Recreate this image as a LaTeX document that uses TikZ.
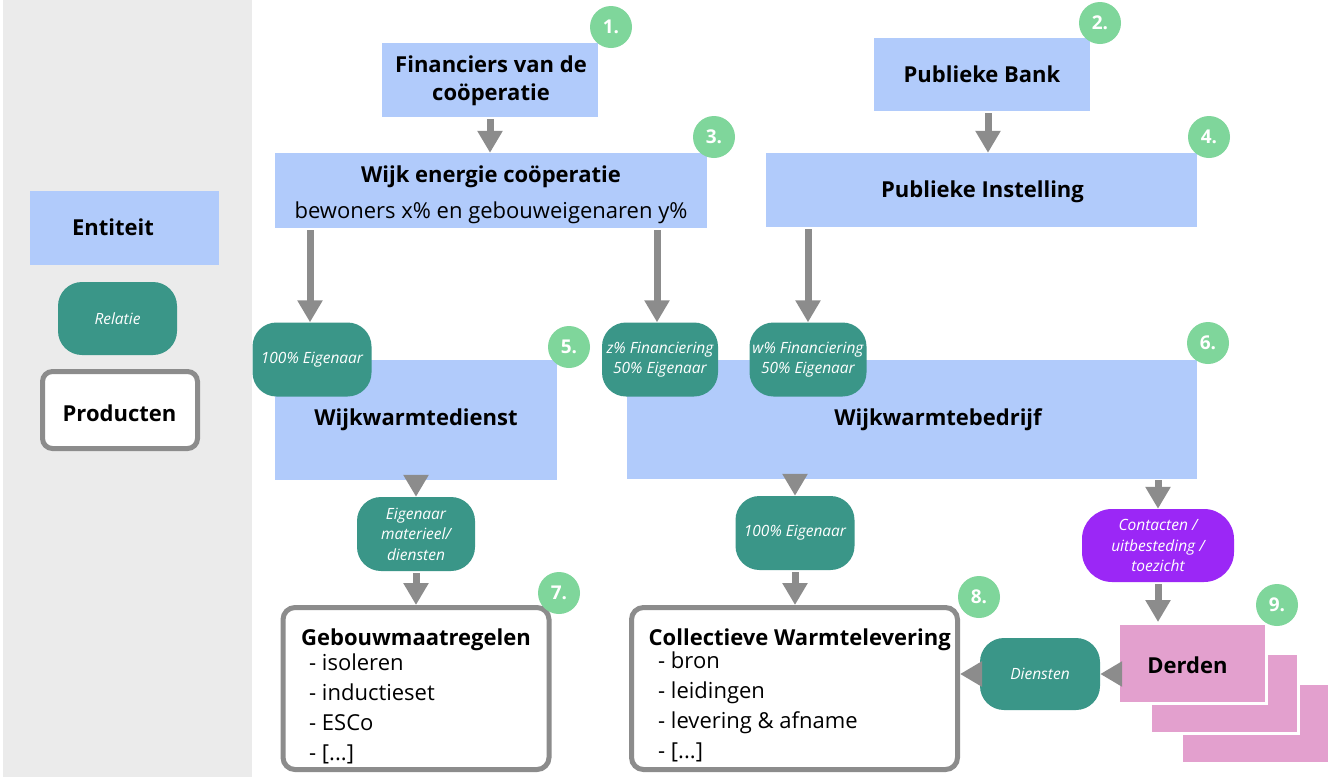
\documentclass[tikz,border=0pt]{standalone}
\usepackage{fontspec}
\setmainfont{Open Sans}
\usetikzlibrary{arrows.meta}
\definecolor{eblue}{HTML}{B1CBFB}
\definecolor{rteal}{HTML}{3A9688}
\definecolor{cgreen}{HTML}{7FD69B}
\definecolor{agrey}{HTML}{8C8C8C}
\definecolor{pgrey}{HTML}{EBEBEB}
\definecolor{rpurple}{HTML}{9B27F6}
\definecolor{dpink}{HTML}{E3A0CE}
\tikzset{
  ebox/.style={fill=eblue, draw=none, inner sep=0pt},
  relbox/.style={fill=rteal, draw=none, rounded corners=24pt, inner sep=0pt, text=white, align=center, font=\fontsize{15.5}{20.5}\selectfont\itshape},
  prodbox/.style={draw=agrey, line width=5pt, fill=white, rounded corners=12pt, inner sep=0pt},
  dbox/.style={fill=dpink, draw=white, line width=3pt, inner sep=0pt, minimum width=148pt, minimum height=80pt},
  numc/.style={circle, fill=cgreen, draw=none, minimum size=42pt, inner sep=0pt, text=white, font=\fontsize{19}{22}\selectfont\bfseries},
  ttl/.style={anchor=base, inner sep=0pt, font=\fontsize{22}{26}\selectfont\bfseries},
  sub/.style={anchor=base, inner sep=0pt, font=\fontsize{22}{26}\selectfont},
  item/.style={anchor=base west, inner sep=0pt, font=\fontsize{22}{26}\selectfont},
  arr/.style={draw=agrey, line width=7pt, -{Triangle[width=24pt,length=22pt]}},
}
\begin{document}
\begin{tikzpicture}[x=1pt,y=-1pt]
\useasboundingbox (0,0) rectangle (1334,777);
\fill[white] (0,0) rectangle (1334,777);
\fill[pgrey] (3,0) rectangle (252,777);

% legend
\node[ebox, minimum width=189pt, minimum height=74pt] (ent) at (124.5,228) {};
\node[ttl] (entt) at (113,235) {Entiteit};
\node[relbox, minimum width=119pt, minimum height=73pt] (rel) at (117.5,318.5) {Relatie};
\node[prodbox, minimum width=155pt, minimum height=77pt, rounded corners=10pt] (prod) at (120,410) {};
\node[ttl] (prodt) at (119.5,421) {Producten};

% entities
\node[ebox, minimum width=216pt, minimum height=74pt] (fin) at (490,80) {};
\node[ttl] (fint1) at (491,72) {Financiers van de};
\node[ttl] (fint2) at (491,100) {coöperatie};
\node[ebox, minimum width=216pt, minimum height=73pt] (bank) at (982,74.5) {};
\node[ttl] (bankt) at (982,82) {Publieke Bank};
\node[ebox, minimum width=432pt, minimum height=75pt] (wec) at (491,190.5) {};
\node[ttl] (wect1) at (491,182) {Wijk energie coöperatie};
\node[sub] (wect2) at (491,218) {bewoners x\% en gebouweigenaren y\%};
\node[ebox, minimum width=431pt, minimum height=74pt] (inst) at (981.5,190) {};
\node[ttl] (instt) at (982.5,197) {Publieke Instelling};
\node[ebox, minimum width=282pt, minimum height=120pt] (wwd) at (416,419.5) {};
\node[ttl] (wwdt) at (416,425) {Wijkwarmtedienst};
\node[ebox, minimum width=570pt, minimum height=119pt] (wwb) at (912,419.5) {};
\node[ttl] (wwbt) at (938,425) {Wijkwarmtebedrijf};

% relations
\node[relbox, minimum width=119pt, minimum height=74pt] (r1) at (312,359.5) {100\% Eigenaar};
\node[relbox, minimum width=116pt, minimum height=74pt] (rz) at (660,359.5) {z\% Financiering\\50\% Eigenaar};
\node[relbox, minimum width=117pt, minimum height=74pt] (rw) at (808,359.5) {w\% Financiering\\50\% Eigenaar};
\node[relbox, minimum width=118pt, minimum height=74pt] (rm) at (416,534) {Eigenaar\\materieel/\\diensten};
\node[relbox, minimum width=119pt, minimum height=74pt] (r100) at (795,533) {100\% Eigenaar};
\node[relbox, fill=rpurple, rounded corners=30pt, minimum width=152pt, minimum height=73pt] (cont) at (1158,545.5) {Contacten /\\uitbesteding /\\toezicht};
\node[relbox, minimum width=120pt, minimum height=72pt] (dien) at (1040,674) {Diensten};

% products
\node[prodbox, minimum width=266pt, minimum height=162pt] (geb) at (416,688.5) {};
\node[anchor=base west, inner sep=0pt, font=\fontsize{22}{26}\selectfont\bfseries] (gebt) at (301,645) {Gebouwmaatregelen};
\node[item] (g1) at (309,670) {- isoleren};
\node[item] (g2) at (309,700) {- inductieset};
\node[item] (g3) at (309,730) {- ESCo};
\node[item] (g4) at (309,760) {- [...]};
\node[prodbox, minimum width=326pt, minimum height=162pt] (col) at (794.5,688.5) {};
\node[anchor=base west, inner sep=0pt, font=\fontsize{22}{26}\selectfont\bfseries] (colt) at (648.5,645) {Collectieve Warmtelevering};
\node[item] (c1) at (658,668) {- bron};
\node[item] (c2) at (658,698) {- leidingen};
\node[item] (c3) at (658,728) {- levering \& afname};
\node[item] (c4) at (658,758) {- [...]};

% derden stack
\node[dbox] (d3) at (1255,723.5) {};
\node[dbox] (d2) at (1224,693.5) {};
\node[dbox] (d1) at (1192.5,663.5) {};
\node[ttl] (d1t) at (1187.5,673) {Derden};

% number circles
\node[numc] (n1) at (611,27) {1.};
\node[numc] (n2) at (1100,23) {2.};
\node[numc] (n3) at (714,137) {3.};
\node[numc] (n4) at (1209,137) {4.};
\node[numc] (n5) at (569,347) {5.};
\node[numc] (n6) at (1208,343) {6.};
\node[numc] (n7) at (559,593) {7.};
\node[numc] (n8) at (979,597) {8.};
\node[numc] (n9) at (1277,605) {9.};

% arrows
\draw[arr] ([yshift=-2pt]fin.south) -- (fin.south |- wec.north);
\draw[arr] ([xshift=6pt,yshift=-2pt]bank.south) -- ([xshift=6pt]bank.south |- inst.north);
\draw[arr] ([xshift=-2pt,yshift=-2pt]r1.north |- wec.south) -- ([xshift=-2pt]r1.north);
\draw[arr] ([xshift=-3pt,yshift=-2pt]rz.north |- wec.south) -- ([xshift=-3pt]rz.north);
\draw[arr] ([yshift=-2pt]rw.north |- inst.south) -- (rw.north);
\draw[arr] ([yshift=-1pt]rm.north |- wwd.south) -- (rm.north);
\draw[arr] ([yshift=-2pt]rm.south) -- (rm.south |- geb.north);
\draw[arr] ([yshift=-1pt]r100.north |- wwb.south) -- (r100.north);
\draw[arr] ([yshift=-2pt]r100.south) -- (r100.south |- col.north);
\draw[arr] ([yshift=-1pt]cont.north |- wwb.south) -- (cont.north);
\draw[arr] ([yshift=-2pt]cont.south) -- (cont.south |- d1.north);
\draw[arr] (d1.west |- dien.east) -- (dien.east);
\draw[arr] (dien.west) -- (dien.west -| col.east);
\end{tikzpicture}
\end{document}
